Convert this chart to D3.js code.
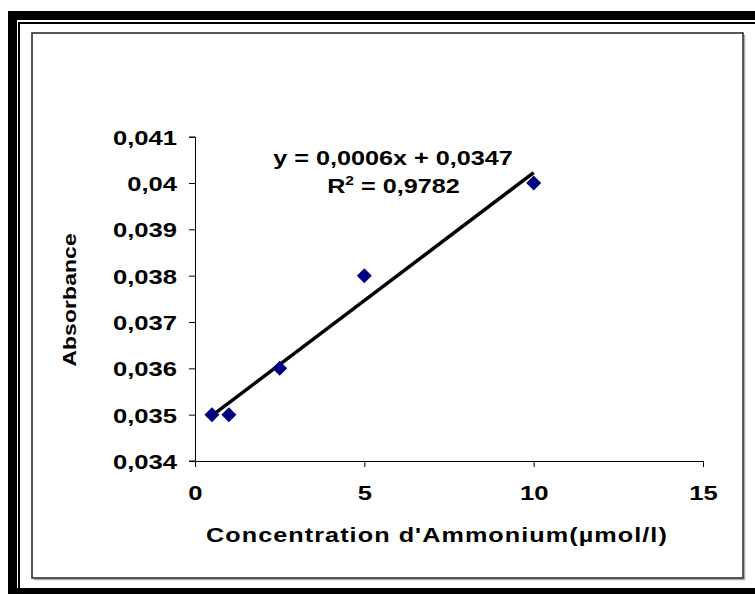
<!DOCTYPE html>
<html>
<head>
<meta charset="utf-8">
<script src="https://cdn.jsdelivr.net/npm/d3@7"></script>
<style>
  html, body { margin: 0; padding: 0; background: #fff; }
  svg { display: block; }
  text { font-family: "Liberation Sans", Arial, sans-serif; font-weight: bold; fill: #000; }
</style>
</head>
<body>
<svg id="chart" width="755" height="594"></svg>
<script>
// ---- data ----
const concentrations = [0.5, 1, 2.5, 5, 10];
const absorbances = [0.035, 0.035, 0.036, 0.038, 0.040];
const xTickValues = [0, 5, 10, 15];
const xTickLabels = ["0", "5", "10", "15"];
const yTickValues = [0.034, 0.035, 0.036, 0.037, 0.038, 0.039, 0.040, 0.041];
const yTickLabels = ["0,034", "0,035", "0,036", "0,037", "0,038", "0,039", "0,04", "0,041"];
const equationLine = "y = 0,0006x + 0,0347";
const r2Value = " = 0,9782";
const xTitle = "Concentration d'Ammonium(µmol/l)";
const yTitle = "Absorbance";

const svg = d3.select("#chart");
const W = 755, H = 594;

// ---- outer frame ----
svg.append("rect").attr("x", 0).attr("y", 0).attr("width", W).attr("height", H).attr("fill", "#fff");
svg.append("rect").attr("x", 8).attr("y", 11).attr("width", W - 8).attr("height", 9).attr("fill", "#000");
svg.append("rect").attr("x", 8).attr("y", 11).attr("width", 9).attr("height", H - 11).attr("fill", "#000");
svg.append("rect").attr("x", 18).attr("y", 22).attr("width", W - 18).attr("height", 2).attr("fill", "#000");
svg.append("rect").attr("x", 18).attr("y", 22).attr("width", 2).attr("height", H - 22).attr("fill", "#000");
svg.append("rect").attr("x", 8).attr("y", 588).attr("width", W - 8).attr("height", 6).attr("fill", "#000");

// ---- chart area box ----
svg.append("line").attr("x1", 34).attr("x2", 745).attr("y1", 579.5).attr("y2", 579.5).attr("stroke", "#aaa").attr("stroke-width", 1.5);
svg.append("line").attr("x1", 744.5).attr("x2", 744.5).attr("y1", 35).attr("y2", 580).attr("stroke", "#aaa").attr("stroke-width", 1.5);
svg.append("rect").attr("x", 32).attr("y", 33).attr("width", 711).attr("height", 545)
  .attr("fill", "#fff").attr("stroke", "#222").attr("stroke-width", 1.5);

// ---- scales ----
const x = d3.scaleLinear().domain([0, 15]).range([195, 703]);
const y = d3.scaleLinear().domain([0.034, 0.041]).range([461, 136.7]);

// ---- axes ----
const yAxis = d3.axisLeft(y).tickValues(yTickValues).tickSize(6)
  .tickFormat((d, i) => yTickLabels[i]);
const gy = svg.append("g").attr("transform", `translate(${x(0)},0)`).call(yAxis);
gy.attr("font-family", null).attr("font-size", null);
gy.select(".domain").attr("stroke", "#000").attr("stroke-width", 1);
gy.selectAll(".tick line").attr("stroke", "#000");
gy.selectAll(".tick text")
  .attr("x", 0).attr("dy", "0.36em")
  .attr("text-anchor", "end")
  .attr("transform", "translate(-18,0) scale(1.22,1)")
  .style("font-size", "21px");

const xAxis = d3.axisBottom(x).tickValues(xTickValues).tickSize(6)
  .tickFormat((d, i) => xTickLabels[i]);
const gx = svg.append("g").attr("transform", `translate(0,${y(0.034)})`).call(xAxis);
gx.attr("font-family", null).attr("font-size", null);
gx.select(".domain").attr("stroke", "#000").attr("stroke-width", 1);
gx.selectAll(".tick line").attr("stroke", "#000");
gx.selectAll(".tick text")
  .attr("y", 0).attr("dy", 0)
  .attr("text-anchor", "middle")
  .attr("transform", "translate(0,38.5) scale(1.22,1)")
  .style("font-size", "21px");
svg.append("line").attr("x1", x(0) - 6).attr("x2", x(0)).attr("y1", y(0.034)).attr("y2", y(0.034)).attr("stroke", "#000");

// ---- trend line (least squares from the data) ----
const n = concentrations.length;
const mx = d3.mean(concentrations), my = d3.mean(absorbances);
let sxy = 0, sxx = 0;
for (let i = 0; i < n; i++) {
  sxy += (concentrations[i] - mx) * (absorbances[i] - my);
  sxx += (concentrations[i] - mx) ** 2;
}
const slope = sxy / sxx, intercept = my - slope * mx;
const [x0, x1] = d3.extent(concentrations);
svg.append("line")
  .attr("x1", x(x0)).attr("y1", y(intercept + slope * x0))
  .attr("x2", x(x1)).attr("y2", y(intercept + slope * x1))
  .attr("stroke", "#000").attr("stroke-width", 3.5);

// ---- markers ----
const s = 7.5;
svg.append("g").selectAll("path").data(concentrations).join("path")
  .attr("d", (d, i) => {
    const cx = x(d), cy = y(absorbances[i]);
    return `M${cx},${cy - s}L${cx + s},${cy}L${cx},${cy + s}L${cx - s},${cy}Z`;
  })
  .attr("fill", "#000080");

// ---- equation ----
svg.append("text").attr("transform", "translate(393,165) scale(1.2,1)")
  .attr("text-anchor", "middle").style("font-size", "21px").text(equationLine);
const r2 = svg.append("text").attr("transform", "translate(393.5,193) scale(1.2,1)")
  .attr("text-anchor", "middle").style("font-size", "21px");
r2.append("tspan").text("R");
r2.append("tspan").attr("dy", -8).style("font-size", "13px").text("2");
r2.append("tspan").attr("dy", 8).text(r2Value);

// ---- axis titles ----
svg.append("text").attr("transform", "translate(206,542) scale(1.2,1)")
  .attr("text-anchor", "start").attr("textLength", 384).attr("lengthAdjust", "spacing")
  .style("font-size", "21px").text(xTitle);
svg.append("text").attr("transform", "translate(76,300) rotate(-90) scale(1.2,1)")
  .attr("text-anchor", "middle").attr("textLength", 111).attr("lengthAdjust", "spacing")
  .style("font-size", "19px").text(yTitle);
</script>
</body>
</html>
